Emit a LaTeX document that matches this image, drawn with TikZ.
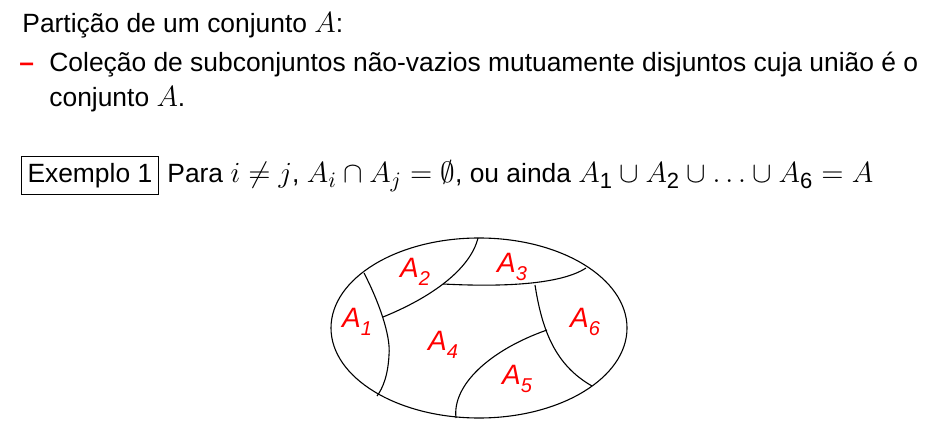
\RequirePackage{fix-cm}
\documentclass[tikz,border=0pt]{standalone}
\usepackage{fontspec}
\setmainfont{Liberation Sans}
\setsansfont{Liberation Sans}
\DeclareMathSizes{13.2}{14.6}{11}{8}
\usetikzlibrary{positioning}

\newcommand{\parte}[1]{A\raisebox{-0.5ex}{\fontsize{10}{11}\selectfont #1}}

\tikzset{
  texto/.style={anchor=base west, inner sep=0pt},
  rotulo/.style={text=red, inner sep=0pt, font=\fontsize{14}{16}\selectfont\itshape},
  linha/.style={line width=0.55pt}
}

\begin{document}
\begin{tikzpicture}[x=0.5pt,y=-0.5pt,every node/.style={font=\fontsize{13.2}{16}\selectfont}]
    \useasboundingbox (0,0) rectangle (945,437);
    \node[texto] (titulo) at (22,33) {Partição de um conjunto $A$:};
    \node[texto, text=red] (traco) at (19,72) {\textbf{--}};
    \node[texto] (linha1) at (49,72) {Coleção de subconjuntos não-vazios mutuamente disjuntos cuja união é o};
    \node[texto] (linha2) at (49,107) {conjunto $A$.};
    \node[texto, draw, line width=0.5pt, inner xsep=3pt, inner ysep=0pt, text height=13pt, text depth=6pt] (exemplo) at (21,183) {Exemplo 1};
    \node[texto] (para) at (167,183) {Para $i\neq j$, $A_i\cap A_j=\emptyset$, ou ainda $A_{\mathsf{1}}\cup A_{\mathsf{2}}\cup\ldots\cup A_{\mathsf{6}}=A$};
    \draw[linha] (479,328) ellipse [x radius=148, y radius=90];
    \coordinate (b1) at (364,273);
    \coordinate (b2) at (377,396);
    \coordinate (b3) at (478,238);
    \coordinate (b4) at (586,268);
    \coordinate (b5) at (592,386);
    \coordinate (b6) at (456,418);
    \coordinate (j1) at (383,317);
    \coordinate (j2) at (443,284);
    \coordinate (j3) at (535,285);
    \coordinate (j4) at (547,330);
    \draw[linha] (b1) .. controls (378,300) and (391,335) .. (389,355) .. controls (388,375) and (383,388) .. (b2);
    \draw[linha] (j1) .. controls (430,298) and (470,270) .. (b3);
    \draw[linha] (j2) .. controls (500,287) and (560,285) .. (b4);
    \draw[linha] (j3) .. controls (542,330) and (555,365) .. (b5);
    \draw[linha] (j4) .. controls (490,350) and (452,385) .. (b6);
    \node[rotulo] (a1) at (357,322) {\parte{1}};
    \node[rotulo] (a2) at (415,272) {\parte{2}};
    \node[rotulo] (a3) at (512,267) {\parte{3}};
    \node[rotulo] (a4) at (443,345) {\parte{4}};
    \node[rotulo] (a5) at (517,379) {\parte{5}};
    \node[rotulo] (a6) at (585,322) {\parte{6}};
\end{tikzpicture}
\end{document}
